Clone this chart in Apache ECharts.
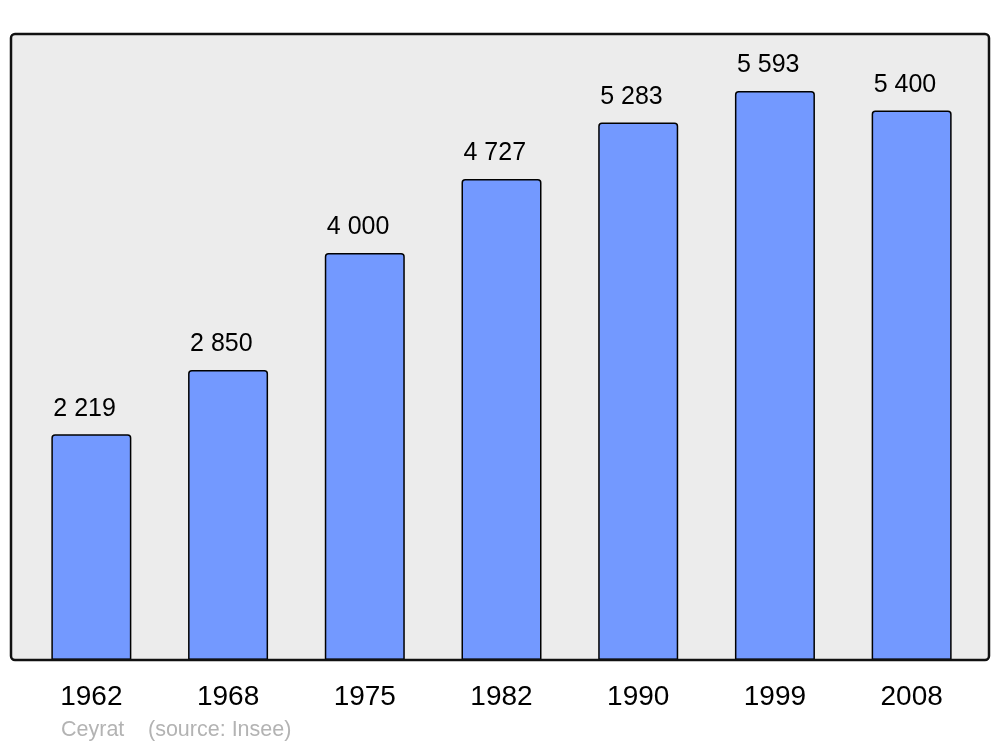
<!DOCTYPE html>
<html>
<head>
<meta charset="utf-8">
<script src="https://cdn.jsdelivr.net/npm/echarts@6/dist/echarts.min.js"></script>
<style>
html,body{margin:0;padding:0;background:#fff;}
#c{width:1000px;height:747px;}
</style>
</head>
<body>
<div id="c"></div>
<script>
const years = ['1962','1968','1975','1982','1990','1999','2008'];
const population = [2219, 2850, 4000, 4727, 5283, 5593, 5400];
const townName = 'Ceyrat';
const sourceText = '(source: Insee)';

function fmt(v){ return String(v).replace(/\B(?=(\d{3})+(?!\d))/g, ' '); }

const chart = echarts.init(document.getElementById('c'), null, {renderer:'canvas'});
chart.setOption({
  animation:false,
  backgroundColor:'#ffffff',
  grid:{left:23, right:20, top:34, bottom:87},
  graphic:[
    {type:'rect', z:-10, shape:{x:11,y:34,width:978,height:626,r:4}, style:{fill:'#ececec', stroke:null}},
    {type:'rect', z:100, shape:{x:11,y:34,width:978,height:626,r:4}, style:{fill:null, stroke:'#111', lineWidth:2.5}},
    {type:'text', left:61, top:719, style:{text:townName, font:'21.5px "Liberation Sans", Arial, sans-serif', fill:'#b3b3b3'}},
    {type:'text', left:148, top:719, style:{text:sourceText, font:'21.5px "Liberation Sans", Arial, sans-serif', fill:'#b3b3b3'}}
  ],
  xAxis:{
    type:'category', data:years,
    axisLine:{show:false}, axisTick:{show:false},
    axisLabel:{fontSize:28, color:'#000', margin:23, fontFamily:'"Liberation Sans", Arial, sans-serif'}
  },
  yAxis:{
    type:'value', min:0, max:6152,
    show:false, splitLine:{show:false}
  },
  series:[{
    type:'bar', data:population, barWidth:80,
    itemStyle:{color:'#7399ff', borderColor:'#000', borderWidth:1.5, borderRadius:[3,3,0,0]},
    label:{show:true, position:[2,-13], align:'left', verticalAlign:'bottom', fontSize:25, color:'#000',
      fontFamily:'"Liberation Sans", Arial, sans-serif',
      formatter:p=>fmt(p.value)}
  }]
});
</script>
</body>
</html>
